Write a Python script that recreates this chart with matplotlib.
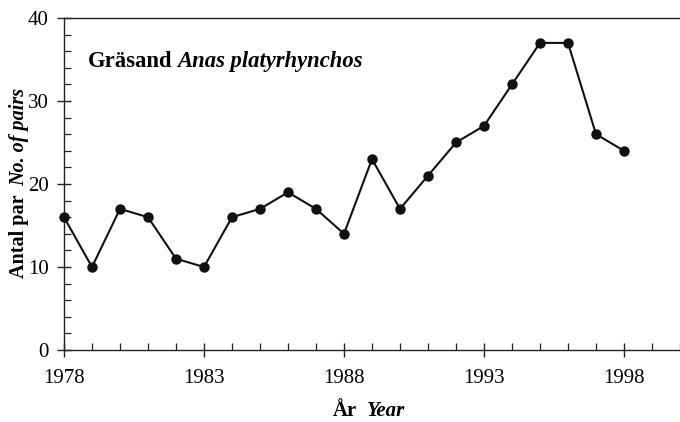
"""Mallard (Grasand) breeding pairs, 1978-1998."""

import matplotlib

matplotlib.use("Agg")

import matplotlib.pyplot as plt  # noqa: E402
from matplotlib.ticker import MultipleLocator  # noqa: E402
from matplotlib.transforms import offset_copy  # noqa: E402

years = list(range(1978, 1999))
pairs = [16, 10, 17, 16, 11, 10, 16, 17, 19, 17, 14, 23, 17, 21, 25, 27, 32, 37, 37, 26, 24]
year_ticks = years[::5]

plt.rcParams["font.family"] = ["Liberation Serif", "DejaVu Serif"]

fig = plt.figure(figsize=(6.8, 4.22), dpi=100)
ax = fig.add_axes([64 / 680, 72 / 422, 1 - 64 / 680, 332 / 422])

ax.plot(years, pairs, color="#111111", linewidth=1.5, marker="o",
        markersize=6.5, markerfacecolor="#111111", markeredgecolor="#111111",
        clip_on=False, zorder=3)

ax.set_xlim(1978, 2000)
ax.set_ylim(0, 40)
ax.set_xticks(year_ticks)
ax.xaxis.set_minor_locator(MultipleLocator(1))
ax.yaxis.set_major_locator(MultipleLocator(10))
ax.yaxis.set_minor_locator(MultipleLocator(2))
ax.tick_params(which="major", direction="inout", length=10, width=1.0,
               labelsize=15, color="#222222")
ax.tick_params(which="minor", direction="in", length=5, width=0.9,
               color="#222222")
ax.tick_params(axis="x", which="major", pad=9)
ax.tick_params(axis="y", which="major", pad=6)
ax.spines["right"].set_visible(False)
for side in ("left", "bottom", "top"):
    ax.spines[side].set_linewidth(1.0)
    ax.spines[side].set_color("#222222")

# in-plot species name: bold Swedish name + bold italic latin name
t1 = fig.text(88 / 680, (422 - 67) / 422, "Gräsand",
              fontsize=16.3, fontweight="bold", va="baseline", ha="left")
fig.canvas.draw()
r = fig.canvas.get_renderer()
w1 = t1.get_window_extent(r).width
fig.text(88 / 680, (422 - 67) / 422, "Anas platyrhynchos",
         transform=offset_copy(fig.transFigure, fig=fig, x=w1 + 5, y=0, units="dots"),
         fontsize=16.3, fontweight="bold", fontstyle="italic",
         va="baseline", ha="left")

# x label
x1 = fig.text(333 / 680, 6 / 422, "År", fontsize=15, fontweight="bold",
              va="baseline", ha="left")
fig.canvas.draw()
wx = x1.get_window_extent(r).width
fig.text(333 / 680, 6 / 422, "Year",
         transform=offset_copy(fig.transFigure, fig=fig, x=wx + 10, y=0, units="dots"),
         fontsize=15, fontweight="bold", fontstyle="italic",
         va="baseline", ha="left")

# y label (rotated)
y1 = fig.text(24 / 680, (422 - 278) / 422, "Antal par", fontsize=14.5,
              fontweight="bold", rotation=90, rotation_mode="anchor",
              va="baseline", ha="left")
fig.canvas.draw()
hy = y1.get_window_extent(r).height
fig.text(24 / 680, (422 - 278) / 422, "No. of pairs",
         transform=offset_copy(fig.transFigure, fig=fig, x=0, y=hy + 9, units="dots"),
         fontsize=14.5, fontweight="bold", fontstyle="italic",
         rotation=90, rotation_mode="anchor", va="baseline", ha="left")

fig.savefig("out.png", dpi=100)
